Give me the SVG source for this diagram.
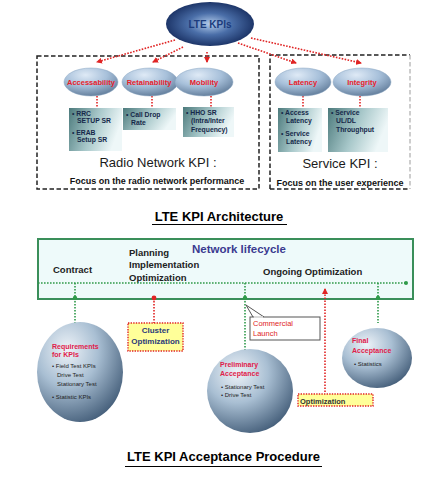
<svg xmlns="http://www.w3.org/2000/svg" width="448" height="482" viewBox="0 0 448 482">
<style>
.t{font-family:"Liberation Sans",Arial,sans-serif}
.b{font-weight:bold}
.red{stroke:#e02424;stroke-width:1.6;stroke-dasharray:1.6 1.4;fill:none}
.grn{stroke:#2f9a4a;stroke-width:1.6;stroke-dasharray:1.6 1.4;fill:none}
.dash{stroke:#222;stroke-width:1.5;stroke-dasharray:4.5 2.5;fill:none}
.el{fill:url(#gEl);stroke:#8aa6c2;stroke-width:0.5}
.elt{font-family:"Liberation Sans",Arial,sans-serif;font-weight:bold;font-size:7.5px;fill:#e8202a;text-anchor:middle}
.box{fill:url(#gBox)}
.bt{font-family:"Liberation Sans",Arial,sans-serif;font-weight:bold;font-size:6.8px;fill:#16294a}
.sph{fill:url(#gSph)}
.st{font-family:"Liberation Sans",Arial,sans-serif;font-weight:bold;font-size:7px;fill:#e0204a}
.sb{font-family:"Liberation Sans",Arial,sans-serif;font-size:6px;fill:#222}
.ybox{fill:#ffff99;stroke:#e02424;stroke-width:1.4;stroke-dasharray:1.4 1.2}
</style>
<defs>
<radialGradient id="gTop" cx="0.5" cy="0.5" r="0.55">
<stop offset="0" stop-color="#b4cdec"/>
<stop offset="0.45" stop-color="#4a6ea8"/>
<stop offset="1" stop-color="#142a5c"/>
</radialGradient>
<radialGradient id="gEl" cx="0.4" cy="0.25" r="0.8">
<stop offset="0" stop-color="#dfeaf6"/>
<stop offset="0.5" stop-color="#a7c0da"/>
<stop offset="1" stop-color="#5d7896"/>
</radialGradient>
<linearGradient id="gBox" x1="0" y1="0" x2="1" y2="0.3">
<stop offset="0" stop-color="#4c7a7c"/>
<stop offset="0.55" stop-color="#a8c8ca"/>
<stop offset="1" stop-color="#eef7f8"/>
</linearGradient>
<radialGradient id="gSph" cx="0.35" cy="0.28" r="0.8">
<stop offset="0" stop-color="#eef3f8"/>
<stop offset="0.45" stop-color="#a9bfd3"/>
<stop offset="1" stop-color="#3e5874"/>
</radialGradient>
<marker id="ah" markerWidth="6" markerHeight="6" refX="5" refY="3" orient="auto" markerUnits="userSpaceOnUse">
<path d="M0,0 L6,3 L0,6 z" fill="#e02424"/>
</marker>
</defs>

<!-- frames -->
<g id="radio-frame">
<rect x="37" y="56" width="222" height="133" class="dash"/>
</g>
<g id="service-frame">
<path d="M270,189 L270,55 L410,55" class="dash"/>
<path d="M270,189 L410,189" class="dash"/>
<path d="M410,55 L410,189" class="dash" style="stroke:#bdbdbd"/>
</g>

<g id="connectors">
<path d="M175,40 L97,62" class="red" marker-end="url(#ah)"/>
<path d="M183,47 L153,62" class="red" marker-end="url(#ah)"/>
<path d="M207,52 L207,62" class="red" marker-end="url(#ah)"/>
<path d="M238,43 L296,63" class="red" marker-end="url(#ah)"/>
<path d="M251,38 L361,63" class="red" marker-end="url(#ah)"/>
<path d="M97,96 L97,107" class="red"/>
<path d="M152,96 L152,107" class="red"/>
<path d="M211,96 L211,107" class="red"/>
<path d="M303,96 L303,108" class="red"/>
<path d="M360,96 L360,108" class="red"/>
</g>

<g id="lte-kpis">
<ellipse cx="210" cy="24" rx="44" ry="22" fill="url(#gTop)"/>
<text x="210" y="28" class="t b" font-size="10" fill="#1c3c7c" text-anchor="middle">LTE KPIs</text>
</g>

<g id="accessability">
<ellipse cx="91" cy="82" rx="27" ry="14" class="el"/>
<text x="91" y="85" class="elt">Accessability</text>
</g>
<g id="retainability">
<ellipse cx="150" cy="82" rx="28" ry="14" class="el"/>
<text x="149" y="85" class="elt">Retainability</text>
</g>
<g id="mobility">
<ellipse cx="204" cy="82" rx="29" ry="14" class="el"/>
<text x="204" y="85" class="elt">Mobility</text>
</g>
<g id="latency">
<ellipse cx="303" cy="82" rx="28" ry="14" class="el"/>
<text x="303" y="85" class="elt">Latency</text>
</g>
<g id="integrity">
<ellipse cx="362" cy="82" rx="29" ry="14" class="el"/>
<text x="362" y="85" class="elt">Integrity</text>
</g>

<g id="box-accessability">
<rect x="69" y="108" width="53" height="43" class="box"/>
<text class="bt"><tspan x="72" y="116">• RRC</tspan><tspan x="77" y="123">SETUP SR</tspan><tspan x="72" y="135">• ERAB</tspan><tspan x="77" y="142">Setup SR</tspan></text>
</g>
<g id="box-retainability">
<rect x="123" y="108" width="53" height="22" class="box"/>
<text class="bt"><tspan x="126" y="117">• Call Drop</tspan><tspan x="131" y="125">Rate</tspan></text>
</g>
<g id="box-mobility">
<rect x="183" y="107" width="51" height="30" class="box"/>
<text class="bt"><tspan x="186" y="115">• HHO SR</tspan><tspan x="191" y="123">(Intra/Inter</tspan><tspan x="191" y="132">Frequency)</tspan></text>
</g>
<g id="box-latency">
<rect x="278" y="108" width="44" height="44" class="box"/>
<text class="bt"><tspan x="281" y="115">• Access</tspan><tspan x="286" y="123">Latency</tspan><tspan x="281" y="136">• Service</tspan><tspan x="286" y="144">Latency</tspan></text>
</g>
<g id="box-integrity">
<rect x="328" y="108" width="60" height="44" class="box"/>
<text class="bt"><tspan x="331" y="115">• Service</tspan><tspan x="336" y="123">UL/DL</tspan><tspan x="336" y="132">Throughput</tspan></text>
</g>

<g id="radio-labels">
<text x="158" y="167" class="t" font-size="13" fill="#1a1a1a" text-anchor="middle">Radio Network KPI :</text>
<text x="157" y="184" class="t b" font-size="9" fill="#111" text-anchor="middle">Focus on the radio network performance</text>
</g>
<g id="service-labels">
<text x="340" y="168" class="t" font-size="13" fill="#1a1a1a" text-anchor="middle">Service KPI :</text>
<text x="340" y="186" class="t b" font-size="9" fill="#111" text-anchor="middle">Focus on the user experience</text>
</g>

<g id="title-architecture">
<text x="219" y="221" class="t b" font-size="13" fill="#000" text-anchor="middle">LTE KPI Architecture</text>
<line x1="152" y1="224.5" x2="287" y2="224.5" stroke="#000" stroke-width="1"/>
</g>

<!-- lifecycle band -->
<g id="network-lifecycle">
<rect x="38" y="239" width="375" height="60" fill="#eefafa" stroke="#3a8f5a" stroke-width="2"/>
<text x="192" y="253" class="t b" font-size="11.5" fill="#3b3b90">Network lifecycle</text>
<text x="53" y="273" class="t b" font-size="9.5" fill="#222">Contract</text>
<text class="t b" font-size="9.5" fill="#222"><tspan x="129" y="256">Planning</tspan><tspan x="129" y="268">Implementation</tspan><tspan x="129" y="281">Optimization</tspan></text>
<text x="263" y="275" class="t b" font-size="9.5" fill="#222">Ongoing  Optimization</text>
</g>

<g id="lifecycle-connectors">
<path d="M38,283 L406,283" class="grn"/>
<circle cx="406" cy="283" r="2" fill="#2f9a4a"/>
<path d="M75,283 L75,323" class="grn"/>
<path d="M245,283 L245,350" class="grn"/>
<path d="M378,283 L378,323" class="grn"/>
<circle cx="75" cy="298" r="2.2" fill="#2f9a4a"/>
<circle cx="245" cy="298" r="2.2" fill="#2f9a4a"/>
<circle cx="378" cy="298" r="2.2" fill="#2f9a4a"/>
<path d="M154,298 L154,323" class="red"/>
<circle cx="154" cy="298" r="2.4" fill="#e02424"/>
<path d="M325,392 L325,289" class="red" marker-end="url(#ah)"/>
</g>

<g id="cluster-optimization">
<rect x="128" y="323" width="55" height="28" class="ybox"/>
<text class="t b" font-size="8" fill="#2a3a7a" text-anchor="middle"><tspan x="155.5" y="333">Cluster</tspan><tspan x="155.5" y="344">Optimization</tspan></text>
</g>

<g id="commercial-launch">
<path d="M253,317 L246,305 L264,317" fill="#fff" stroke="#555" stroke-width="1"/>
<rect x="250" y="317" width="70" height="23" fill="#fff" stroke="#555" stroke-width="1"/>
<line x1="254" y1="317" x2="263" y2="317" stroke="#fff" stroke-width="1.2"/>
<text class="t" font-size="7.5" fill="#e02424"><tspan x="253" y="326">Commercial</tspan><tspan x="253" y="336">Launch</tspan></text>
</g>

<g id="requirements">
<ellipse cx="80" cy="372" rx="43" ry="50" class="sph"/>
<text class="st"><tspan x="52" y="349">Requirements</tspan><tspan x="52" y="357">for KPIs</tspan></text>
<text class="sb"><tspan x="52" y="368">• Field Test KPIs</tspan><tspan x="57" y="377">Drive Test</tspan><tspan x="57" y="386">Stationary Test</tspan><tspan x="52" y="399">• Statistic KPIs</tspan></text>
</g>

<g id="preliminary-acceptance">
<ellipse cx="250" cy="391" rx="43" ry="42" class="sph"/>
<text class="st"><tspan x="220" y="367">Preliminary</tspan><tspan x="220" y="376">Acceptance</tspan></text>
<text class="sb"><tspan x="221" y="389">• Stationary Test</tspan><tspan x="221" y="397">• Drive Test</tspan></text>
</g>

<g id="optimization">
<rect x="298" y="394" width="75" height="12" class="ybox"/>
<text x="300" y="403.5" class="t b" font-size="7.5" fill="#333">Optimization</text>
</g>

<g id="final-acceptance">
<ellipse cx="377" cy="358" rx="35" ry="30" class="sph"/>
<text class="st"><tspan x="352" y="343">Final</tspan><tspan x="352" y="353">Acceptance</tspan></text>
<text class="sb"><tspan x="354" y="366">• Statistics</tspan></text>
</g>

<g id="title-acceptance">
<text x="223.5" y="461" class="t b" font-size="13" fill="#000" text-anchor="middle">LTE KPI Acceptance Procedure</text>
<line x1="125" y1="466.5" x2="322" y2="466.5" stroke="#000" stroke-width="1"/>
</g>
</svg>
